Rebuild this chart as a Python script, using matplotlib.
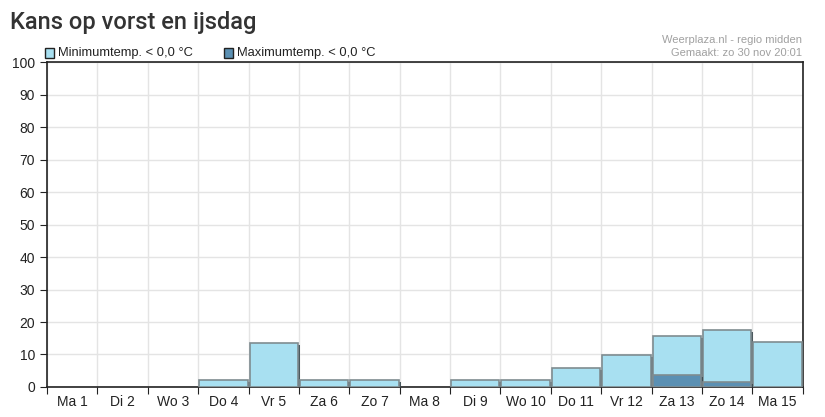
import numpy as np
import matplotlib.pyplot as plt
import matplotlib.patheffects as pe
from matplotlib.patches import Rectangle

days = ["Ma 1", "Di 2", "Wo 3", "Do 4", "Vr 5", "Za 6", "Zo 7", "Ma 8",
        "Di 9", "Wo 10", "Do 11", "Vr 12", "Za 13", "Zo 14", "Ma 15"]
min_temp = [0, 0, 0, 2, 13.5, 2, 2, 0, 2, 2, 5.8, 9.8, 15.7, 17.5, 13.8]
max_temp = [0, 0, 0, 0, 0, 0, 0, 0, 0, 0, 0, 0, 3.7, 1.5, 0]

min_color = "#a8e0f1"
max_color = "#5b90b3"

plt.rcParams["font.family"] = ["Liberation Sans", "DejaVu Sans"]

fig = plt.figure(figsize=(8.25, 4.17), dpi=100)
ax = fig.add_axes([0.057, 0.072, 0.916, 0.779])

x = np.arange(len(days))
shadow = [pe.SimplePatchShadow(offset=(1.5, -1.2), shadow_rgbFace="#3a4a50", alpha=0.9), pe.Normal()]

for xi, v in zip(x, min_temp):
    if v > 0:
        ax.bar(xi + 0.5, v, width=0.96, color=min_color, edgecolor="#7f8c90",
               linewidth=1.2, zorder=3, path_effects=shadow)
for xi, v in zip(x, max_temp):
    if v > 0:
        ax.bar(xi + 0.5, v, width=0.96, color=max_color, edgecolor="#7f8c90",
               linewidth=1.2, zorder=4, path_effects=shadow)

ax.set_xlim(0, len(days))
ax.set_ylim(0, 100)
ax.set_yticks(range(0, 101, 10))
ax.set_xticks(range(0, len(days) + 1))
ax.set_xticklabels([])
ax.set_xticks(x + 0.5, minor=True)
ax.set_xticklabels(days, minor=True)
ax.tick_params(axis="x", which="minor", length=0, pad=6, labelsize=10, colors="#222222")
ax.tick_params(axis="x", which="major", length=5, direction="out", color="#222222")
ax.tick_params(axis="y", length=5, labelsize=10, colors="#222222")
ax.grid(True, which="major", color="#e4e4e4", linewidth=1, zorder=0)
ax.set_axisbelow(True)
for s in ax.spines.values():
    s.set_color("#222222")
    s.set_linewidth(1.2)

fig.text(0.012, 0.945, "Kans op vorst en ijsdag", fontsize=17, family=["Roboto", "DejaVu Sans"],
         weight="medium", color="#333333", va="center")

# legend
fig.patches.append(Rectangle((0.054, 0.862), 0.012, 0.024, transform=fig.transFigure,
                             facecolor=min_color, edgecolor="#222222", linewidth=1))
fig.text(0.070, 0.874, "Minimumtemp. < 0,0 °C", fontsize=9.25, va="center", color="#222222")
fig.patches.append(Rectangle((0.271, 0.862), 0.012, 0.024, transform=fig.transFigure,
                             facecolor=max_color, edgecolor="#222222", linewidth=1))
fig.text(0.287, 0.874, "Maximumtemp. < 0,0 °C", fontsize=9.25, va="center", color="#222222")

fig.text(0.972, 0.903, "Weerplaza.nl - regio midden", fontsize=8, ha="right", va="center", color="#a0a0a0")
fig.text(0.972, 0.872, "Gemaakt: zo 30 nov 20:01", fontsize=8, ha="right", va="center", color="#a0a0a0")

fig.savefig("out.png", dpi=100)
